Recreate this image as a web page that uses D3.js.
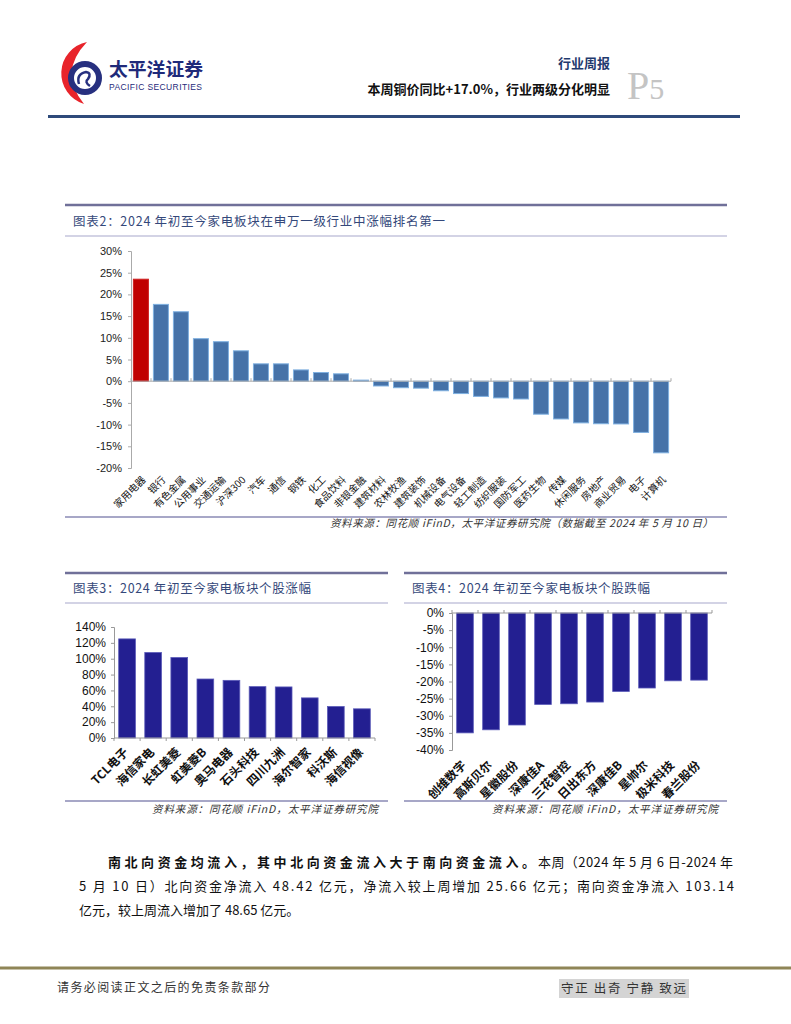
<!DOCTYPE html>
<html><head><meta charset="utf-8">
<script src="https://cdn.jsdelivr.net/npm/d3@7"></script>
<style>
html,body{margin:0;padding:0;background:#fff;}
svg{display:block;}
text{font-family:"Noto Sans CJK SC","Noto Sans",sans-serif;}
.num{font-family:"Liberation Sans",Arial,sans-serif;}
</style></head>
<body>
<svg id="c" width="791" height="1024"></svg>
<script>
// ---------- data ----------
const industries = ["家用电器","银行","有色金属","公用事业","交通运输","沪深300","汽车","通信","钢铁","化工","食品饮料","非银金融","建筑材料","农林牧渔","建筑装饰","机械设备","电气设备","轻工制造","纺织服装","国防军工","医药生物","传媒","休闲服务","房地产","商业贸易","电子","计算机"];
const industryValues = [23.5,17.7,16.0,9.8,9.1,7.0,4.0,4.0,2.6,2.0,1.7,0.25,-1.1,-1.5,-1.6,-2.2,-2.85,-3.5,-3.85,-4.1,-7.6,-8.7,-9.6,-9.8,-9.85,-11.8,-16.5];
const industryTicks = [-20,-15,-10,-5,0,5,10,15,20,25,30];

const gainStocks = ["TCL电子","海信家电","长虹美菱","虹美菱B","奥马电器","石头科技","四川九洲","海尔智家","科沃斯","海信视像"];
const gainValues = [125,107.8,101.5,74.4,72.7,64.8,64.4,50.6,39.7,36.8];
const gainTicks = [0,20,40,60,80,100,120,140];

const lossStocks = ["创维数字","高斯贝尔","星徽股份","深康佳A","三花智控","日出东方","深康佳B","星帅尔","极米科技","春兰股份"];
const lossValues = [-35.0,-34.1,-32.7,-26.7,-26.5,-26.0,-22.9,-21.9,-19.8,-19.6];
const lossTicks = [-40,-35,-30,-25,-20,-15,-10,-5,0];

const svg = d3.select("#c");

// ---------- header ----------
const hdr = svg.append("g");
hdr.append("path").attr("d","M87,42 A32,32 0 0,0 84,104 Q58,72 87,42 Z").attr("fill","#e8242b");
hdr.append("circle").attr("cx",85).attr("cy",78).attr("r",14).attr("fill","none").attr("stroke","#27307f").attr("stroke-width",6);
hdr.append("path").attr("d","M79,84 Q76,74 86,72 Q92,73 88,79 Q84,82 90,86").attr("fill","none").attr("stroke","#27307f").attr("stroke-width",2.5);
hdr.append("text").attr("x",109).attr("y",76).attr("font-size",18).attr("font-weight",700).attr("fill","#1f2a7a")
  .attr("textLength",94).attr("lengthAdjust","spacingAndGlyphs").text("太平洋证券");
hdr.append("text").attr("class","num").attr("x",109).attr("y",90).attr("font-size",8.5).attr("fill","#1f2a7a")
  .attr("textLength",93).attr("lengthAdjust","spacing").text("PACIFIC SECURITIES");
hdr.append("text").attr("x",610).attr("y",68).attr("font-size",13).attr("font-weight",700).attr("fill","#1f3a6e").attr("text-anchor","end").text("行业周报");
hdr.append("text").attr("x",610).attr("y",94).attr("font-size",13).attr("font-weight",700).attr("fill","#111").attr("text-anchor","end").text("本周铜价同比+17.0%，行业两级分化明显");
const p5 = hdr.append("text").attr("x",627).attr("y",99).attr("fill","#c4c4c4").style("font-family","'Liberation Serif',serif");
p5.append("tspan").attr("font-size",40).text("P");
p5.append("tspan").attr("font-size",30).text("5");
hdr.append("line").attr("x1",48).attr("x2",740).attr("y1",116.5).attr("y2",116.5).attr("stroke","#2e4a7a").attr("stroke-width",3);

// ---------- panel frame helper ----------
function panel(x1,x2,yTop,yTitleLine,yBottom,title,titleY,titleLen,source,srcX,srcY,srcLen){
  svg.append("line").attr("x1",x1).attr("x2",x2).attr("y1",yTop).attr("y2",yTop).attr("stroke","#707099").attr("stroke-width",2.5);
  svg.append("text").attr("x",x1+8).attr("y",titleY).attr("font-size",12.5).attr("fill","#34487a")
    .attr("textLength",titleLen).attr("lengthAdjust","spacing").text(title);
  svg.append("line").attr("x1",x1).attr("x2",x2).attr("y1",yTitleLine).attr("y2",yTitleLine).attr("stroke","#a8a8cc").attr("stroke-width",1.2);
  svg.append("line").attr("x1",x1).attr("x2",x2).attr("y1",yBottom).attr("y2",yBottom).attr("stroke","#8a8ab4").attr("stroke-width",1.5);
  svg.append("text").attr("x",srcX-srcLen).attr("y",srcY).attr("font-size",10.5).attr("font-style","italic").attr("fill","#333")
    .attr("textLength",srcLen).attr("lengthAdjust","spacing").text(source);
}

// ---------- chart 2 ----------
panel(65,727,205,236,517,"图表2：2024 年初至今家电板块在申万一级行业中涨幅排名第一",226,372,
  "资料来源：同花顺 iFinD，太平洋证券研究院（数据截至 2024 年 5 月 10 日）",713,527,383);
{
  const x = d3.scaleBand().domain(industries).range([131,671]).paddingInner(0.25).paddingOuter(0.12);
  const y = d3.scaleLinear().domain([-20,30]).range([468,251]);
  const g = svg.append("g");
  const ya = g.append("g").attr("transform","translate(131,0)")
    .call(d3.axisLeft(y).tickValues(industryTicks).tickFormat(d=>d+"%").tickSize(3).tickPadding(6));
  ya.select(".domain").attr("stroke","#aaa");
  ya.selectAll(".tick line").attr("stroke","#aaa");
  ya.selectAll("text").attr("class","num").attr("font-size",11).attr("fill","#222");
  g.selectAll("rect.b").data(industryValues).enter().append("rect")
    .attr("x",(d,i)=>x(industries[i])).attr("width",x.bandwidth())
    .attr("y",d=>y(Math.max(0,d))).attr("height",d=>Math.abs(y(d)-y(0)))
    .attr("fill",(d,i)=>i===0?"#c00000":"#4672a8").attr("stroke",(d,i)=>i===0?"#d02020":"#7fb0e0").attr("stroke-width",1);
  const edges = d3.range(industries.length+1).map(i=>131+i*(540/industries.length));
  g.append("line").attr("x1",131).attr("x2",671).attr("y1",y(0)).attr("y2",y(0)).attr("stroke","#aaa");
  g.selectAll("line.t").data(edges).enter().append("line").attr("x1",d=>d).attr("x2",d=>d).attr("y1",y(0)).attr("y2",y(0)-3).attr("stroke","#aaa");
  g.selectAll("text.l").data(industries).enter().append("text")
    .attr("transform",d=>`translate(${x(d)+x.bandwidth()/2+3},478) rotate(-45)`)
    .attr("text-anchor","end").attr("dy","0.35em").attr("font-size",10).attr("fill","#111").text(d=>d);
}

// ---------- chart 3 ----------
panel(65,388,573,603,801,"图表3：2024 年初至今家电板块个股涨幅",593,238,"资料来源：同花顺 iFinD，太平洋证券研究院",378,813,226);
{
  const x = d3.scaleBand().domain(gainStocks).range([114,375]).paddingInner(0.36).paddingOuter(0.18);
  const y = d3.scaleLinear().domain([0,140]).range([738,627]);
  const g = svg.append("g");
  const ya = g.append("g").attr("transform","translate(114,0)")
    .call(d3.axisLeft(y).tickValues(gainTicks).tickFormat(d=>d+"%").tickSize(3).tickPadding(5));
  ya.select(".domain").attr("stroke","#999");
  ya.selectAll(".tick line").attr("stroke","#999");
  ya.selectAll("text").attr("class","num").attr("font-size",12).attr("fill","#111");
  g.selectAll("rect").data(gainValues).enter().append("rect")
    .attr("x",(d,i)=>x(gainStocks[i])).attr("width",x.bandwidth())
    .attr("y",d=>y(d)).attr("height",d=>y(0)-y(d)).attr("fill","#231f91").attr("stroke","#5a5ab8").attr("stroke-width",0.8);
  g.append("line").attr("x1",114).attr("x2",375).attr("y1",y(0)).attr("y2",y(0)).attr("stroke","#999");
  const edges = d3.range(gainStocks.length+1).map(i=>114+i*(261/gainStocks.length));
  g.selectAll("line.t").data(edges).enter().append("line").attr("x1",d=>d).attr("x2",d=>d).attr("y1",y(0)).attr("y2",y(0)+3).attr("stroke","#999");
  g.selectAll("text.l").data(gainStocks).enter().append("text")
    .attr("transform",d=>`translate(${x(d)+x.bandwidth()/2-4},747) rotate(-45)`)
    .attr("text-anchor","end").attr("dy","0.7em").attr("font-size",12).attr("font-weight",700).attr("fill","#111").text(d=>d);
}

// ---------- chart 4 ----------
panel(404,727,573,603,801,"图表4：2024 年初至今家电板块个股跌幅",593,238,"资料来源：同花顺 iFinD，太平洋证券研究院",718,813,226);
{
  const x = d3.scaleBand().domain(lossStocks).range([452,712]).paddingInner(0.36).paddingOuter(0.18);
  const y = d3.scaleLinear().domain([-40,0]).range([750,613]);
  const g = svg.append("g");
  const ya = g.append("g").attr("transform","translate(452,0)")
    .call(d3.axisLeft(y).tickValues(lossTicks).tickFormat(d=>d+"%").tickSize(3).tickPadding(5));
  ya.select(".domain").attr("stroke","#999");
  ya.selectAll(".tick line").attr("stroke","#999");
  ya.selectAll("text").attr("class","num").attr("font-size",12).attr("fill","#111");
  g.selectAll("rect").data(lossValues).enter().append("rect")
    .attr("x",(d,i)=>x(lossStocks[i])).attr("width",x.bandwidth())
    .attr("y",y(0)).attr("height",d=>y(d)-y(0)).attr("fill","#231f91").attr("stroke","#5a5ab8").attr("stroke-width",0.8);
  g.append("line").attr("x1",452).attr("x2",712).attr("y1",y(0)).attr("y2",y(0)).attr("stroke","#999");
  const edges = d3.range(lossStocks.length+1).map(i=>452+i*(260/lossStocks.length));
  g.selectAll("line.t").data(edges).enter().append("line").attr("x1",d=>d).attr("x2",d=>d).attr("y1",y(0)).attr("y2",y(0)-3).attr("stroke","#999");
  g.selectAll("text.l").data(lossStocks).enter().append("text")
    .attr("transform",d=>`translate(${x(d)+x.bandwidth()/2-4},760) rotate(-45)`)
    .attr("text-anchor","end").attr("dy","0.7em").attr("font-size",12).attr("font-weight",700).attr("fill","#111").text(d=>d);
}

// ---------- paragraph ----------
svg.append("text").attr("x",108).attr("y",867).attr("font-size",13).attr("font-weight",700).attr("fill","#111")
  .attr("textLength",427).attr("lengthAdjust","spacing").text("南北向资金均流入，其中北向资金流入大于南向资金流入。");
svg.append("text").attr("x",538).attr("y",867).attr("font-size",13).attr("fill","#111")
  .attr("textLength",195).attr("lengthAdjust","spacing").text("本周（2024 年 5 月 6 日-2024 年");
svg.append("text").attr("x",79).attr("y",891).attr("font-size",13).attr("fill","#111")
  .attr("textLength",655).attr("lengthAdjust","spacing")
  .text("5 月 10 日）北向资金净流入 48.42 亿元，净流入较上周增加 25.66 亿元；南向资金净流入 103.14");
svg.append("text").attr("x",79).attr("y",915).attr("font-size",13).attr("fill","#111")
  .text("亿元，较上周流入增加了 48.65 亿元。");

// ---------- footer ----------
svg.append("line").attr("x1",0).attr("x2",791).attr("y1",968).attr("y2",968).attr("stroke","#8f8557").attr("stroke-width",3);
svg.append("text").attr("x",57).attr("y",992).attr("font-size",12).attr("fill","#333")
  .attr("textLength",213).attr("lengthAdjust","spacing").text("请务必阅读正文之后的免责条款部分");
svg.append("rect").attr("x",559).attr("y",979).attr("width",130).attr("height",19).attr("fill","#d4d4d4");
svg.append("text").attr("x",561).attr("y",993).attr("font-size",12.5).attr("fill","#333")
  .attr("textLength",125).attr("lengthAdjust","spacing").text("守正 出奇 宁静 致远");
</script>
</body></html>
